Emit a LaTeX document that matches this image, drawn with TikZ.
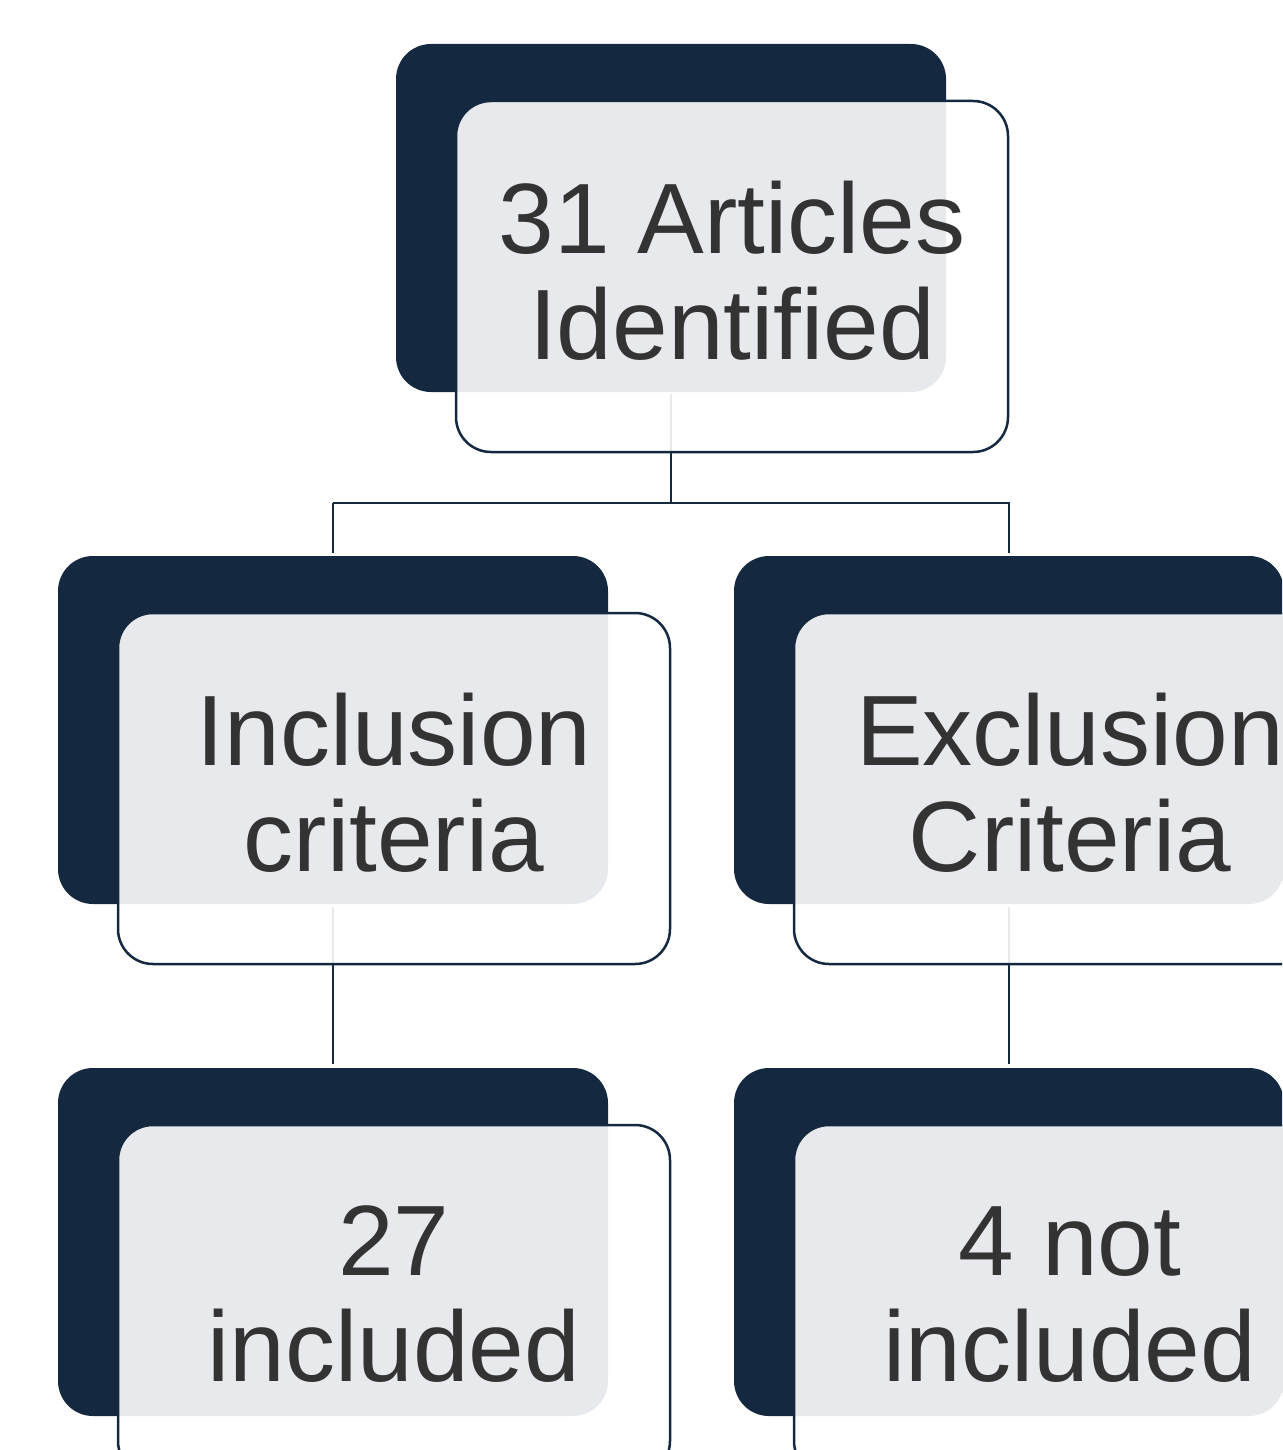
\documentclass[tikz,border=0pt]{standalone}
\usepackage{fontspec}
\setmainfont{Liberation Sans}
\usetikzlibrary{calc}
\definecolor{navy}{HTML}{14283F}
\definecolor{txt}{HTML}{333333}
\begin{document}
\begin{tikzpicture}[x=1pt,y=-1pt,
  back/.style={fill=navy, rounded corners=35pt, minimum width=550pt, minimum height=348pt, inner sep=0pt},
  front/.style={draw=navy, line width=2.5pt, fill=white, fill opacity=0.9, rounded corners=35pt, minimum width=552pt, minimum height=351pt, inner sep=0pt},
  lbl/.style={text=txt, align=center, inner sep=0pt, yshift=6pt, font=\fontsize{100}{106}\selectfont},
  link/.style={draw=navy, line width=2.3pt}]
\useasboundingbox (0,0) rectangle (1282,1450);
\clip (0,0) rectangle (1282,1450);
% back boxes
\node[back] (d1) at (671,218) {};
\node[back] (d2) at (333,730) {};
\node[back] (d3) at (1009,730) {};
\node[back] (d4) at (333,1242) {};
\node[back] (d5) at (1009,1242) {};
% connectors
\coordinate (j) at (671,503);
\draw[link, shorten <=2pt] (d1.south) -- (d1.south |- j);
\draw[link, shorten >=3pt] (d2.north |- j) -| (d3.north);
\draw[link, shorten >=3pt] (d2.north |- j) -- (d2.north);
\draw[link, shorten <=3pt, shorten >=4pt] (d2.south) -- (d4.north);
\draw[link, shorten <=3pt, shorten >=4pt] (d3.south) -- (d5.north);
% front boxes
\node[front] (f1) at (732,276.5) {};
\node[front] (f2) at (394,788.5) {};
\node[front] (f3) at (1070,788.5) {};
\node[front] (f4) at (394,1300.5) {};
\node[front] (f5) at (1070,1300.5) {};
% labels
\node[lbl] (t1) at (f1.center) {31 Articles\\Identified};
\node[lbl] (t2) at (f2.center) {Inclusion\\criteria};
\node[lbl] (t3) at (f3.center) {Exclusion\\Criteria};
\node[lbl] (t4) at (f4.center) {27\\included};
\node[lbl] (t5) at (f5.center) {4 not\\included};
\end{tikzpicture}
\end{document}
